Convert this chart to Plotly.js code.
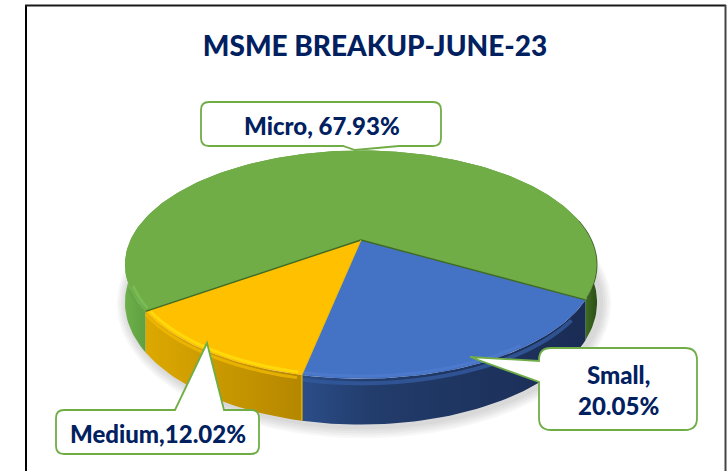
<!DOCTYPE html>
<html>
<head>
<meta charset="utf-8">
<script src="https://cdn.plot.ly/plotly-3.0.1.min.js"></script>
<style>html,body{margin:0;padding:0;background:#fff;overflow:hidden}#chart{width:727px;height:471px}</style>
</head>
<body>
<div id="chart"></div>
<script>
// ---- data ----
const categories = ['Small', 'Medium', 'Micro'];
const shares = [20.05, 12.02, 67.93];
const faceColors = ['#4472c4', '#ffc000', '#70ad47'];
const sideGradients = [
  [[0, '#2b4d88'], [0.25, '#223c6b'], [1, '#1a2c54']],
  [[0, '#dca800'], [1, '#b58700']],
  [[0, '#6cb04a'], [0.06, '#5c9a3c'], [0.93, '#5c9a3c'], [0.975, '#3f6e24'], [1, '#2c4d16']]
];
const rimColors = ['rgba(78,122,205,0.9)', '#ffd90a', 'rgba(128,200,92,0.55)'];
const wallBevel = ['rgba(50,88,155,0.85)', 'rgba(240,184,0,0.8)', 'rgba(100,165,70,0.7)'];
const titleText = 'MSME BREAKUP-JUNE-23';
const navy = '#002060';
const calloutGreen = '#70ad47';

// ---- perspective view of the disc (a 3-D pie is not a Plotly trace type) ----
const view = {cx: 361, cy: 240, A: 108.8, B: 230.5, k: -0.2157, depth: 36, startDeg: 29.5};
function project(deg, r, lift) {
  const t = deg * Math.PI / 180;
  const u = r * Math.cos(t), v = r * Math.sin(t), w = 1 + view.k * v;
  return [view.cx + view.B * u / w, view.cy + view.A * v / w + (lift || 0) * view.depth / w];
}
function arc(a, b, r, lift) {
  const out = [], n = Math.max(2, Math.ceil(Math.abs(b - a) / 1.5));
  for (let i = 0; i <= n; i++) out.push(project(a + (b - a) * i / n, r, lift));
  return out;
}
const xs = p => p.map(q => q[0]), ys = p => p.map(q => q[1]);

// slice angle ranges come from the shares
const total = shares.reduce((a, b) => a + b, 0);
const ranges = [];
let running = view.startDeg;
shares.forEach(s => { const e = running + s / total * 360; ranges.push([running, e]); running = e; });

const traces = [];
function poly(points, fillcolor, extra) {
  traces.push(Object.assign({type: 'scatter', mode: 'lines', x: xs(points), y: ys(points),
    fill: 'toself', fillcolor, line: {width: 0}, hoverinfo: 'skip', showlegend: false}, extra || {}));
}
function stroke(points, color, width) {
  traces.push({type: 'scatter', mode: 'lines', x: xs(points), y: ys(points),
    line: {color, width, simplify: false}, hoverinfo: 'skip', showlegend: false});
}

// soft shadow under the disc
[11, 9, 7, 5, 3].forEach(grow => {
  const ring = arc(0, 360, 1, 1).map(p => [p[0] + 3 + (p[0] - view.cx) * grow / 236, p[1] + 1 + (p[1] - 300) * grow / 110]);
  poly(ring, 'rgba(60,60,60,0.045)');
});

// side walls: green first (it is behind), then yellow, then blue
[2, 1, 0].forEach(i => {
  const [a, b] = ranges[i];
  const top = arc(a, b, 1, 0), bottom = arc(a, b, 1, 1).reverse();
  traces.push({type: 'scatter', mode: 'lines', x: xs(top.concat(bottom)), y: ys(top.concat(bottom)),
    fill: 'toself', fillcolor: faceColors[i], line: {width: 0},
    fillgradient: {type: 'horizontal', colorscale: sideGradients[i]},
    hoverinfo: 'skip', showlegend: false});
});
// soft bevel where each wall meets the top face
stroke(arc(ranges[0][0] + 8, ranges[0][1], 1, 0.1), wallBevel[0], 4);
stroke(arc(ranges[1][0] + 1, ranges[1][1], 1, 0.07), wallBevel[1], 3);
stroke(arc(ranges[2][0] + 1, ranges[2][0] + 12, 1, 0.07), wallBevel[2], 3);
// thin yellow seam on the wall between Medium and Small
stroke([project(ranges[0][1], 1, 0), project(ranges[0][1], 1, 1)], '#e0b000', 1.5);

// top faces
[2, 0, 1].forEach(i => {
  const [a, b] = ranges[i];
  const pts = [[view.cx, view.cy]].concat(arc(a, b, 1, 0), [[view.cx, view.cy]]);
  poly(pts, faceColors[i], {hoverinfo: 'text', hoveron: 'fills', text: categories[i] + ', ' + shares[i] + '%'});
});

// bevel highlights along the front rim
stroke(arc(ranges[1][0] + 1, ranges[1][1] - 0.5, 0.985, 0), rimColors[1], 3);
stroke(arc(ranges[0][0] + 25, ranges[0][1], 0.985, 0), rimColors[0], 3);
stroke(arc(ranges[2][0] + 1, ranges[2][0] + 12, 0.985, 0), rimColors[2], 3);
stroke(arc(ranges[2][1] - 40, ranges[2][1] - 1, 1, 0), 'rgba(45,75,25,0.7)', 1);

// separators
const apex = [view.cx, view.cy];
stroke([apex, project(ranges[2][0], 1, 0)], '#3f6b24', 1.4);
stroke([apex, project(ranges[2][1], 1, 0)], '#3f6b24', 1.4);
stroke([apex, project(ranges[0][1], 1, 0)], '#e8b800', 1);

// ---- callouts and frame ----
function callout(x0, y0, x1, y1, r, pointer) {
  // pointer: [side, a, b, tipX, tipY]
  const [side, a, b, tx, ty] = pointer;
  let d = `M${x0 + r},${y0}`;
  if (side === 'top') d += `L${a},${y0}L${tx},${ty}L${b},${y0}`;
  d += `L${x1 - r},${y0}Q${x1},${y0} ${x1},${y0 + r}L${x1},${y1 - r}Q${x1},${y1} ${x1 - r},${y1}`;
  if (side === 'bottom') d += `L${b},${y1}L${tx},${ty}L${a},${y1}`;
  d += `L${x0 + r},${y1}Q${x0},${y1} ${x0},${y1 - r}`;
  if (side === 'left') d += `L${x0},${b}L${tx},${ty}L${x0},${a}`;
  d += `L${x0},${y0 + r}Q${x0},${y0} ${x0 + r},${y0}Z`;
  return {type: 'path', xref: 'x', yref: 'y', path: d, fillcolor: '#fff', line: {color: calloutGreen, width: 1.8}, layer: 'above'};
}
const shapes = [
  callout(201, 102, 441, 146, 8, ['bottom', 343, 399, 355, 150]),
  callout(56, 410, 259, 454, 8, ['top', 175, 224, 207, 343]),
  callout(539, 348, 697, 430, 12, ['left', 361, 382, 470, 357]),
  {type: 'line', xref: 'x', yref: 'y', x0: 26, x1: 26, y0: 5, y1: 471, line: {color: '#000', width: 2}},
  {type: 'line', xref: 'x', yref: 'y', x0: 25, x1: 726, y0: 5.5, y1: 5.5, line: {color: '#1a1a1a', width: 2}},
  {type: 'line', xref: 'x', yref: 'y', x0: 725.5, x1: 725.5, y0: 5, y1: 471, line: {color: '#444', width: 2}}
];
const labelFont = {family: 'Lato, Carlito, sans-serif', size: 24, color: navy, weight: 900};
const annotations = [
  {x: 322, y: 125, text: 'Micro, 67.93%'},
  {x: 618, y: 390, text: 'Small,<br>20.05%'},
  {x: 158, y: 433, text: 'Medium,12.02%'}
].map(a => Object.assign(a, {xref: 'x', yref: 'y', showarrow: false, font: labelFont, align: 'center'}));

const layout = {
  width: 727, height: 471, margin: {l: 0, r: 0, t: 0, b: 0, pad: 0},
  paper_bgcolor: '#fff', plot_bgcolor: '#fff', showlegend: false,
  title: {text: titleText, x: 375 / 727, xanchor: 'center', y: 1 - 46 / 471, yanchor: 'middle',
    font: {family: 'Lato, Carlito, sans-serif', size: 28, color: navy, weight: 900}},
  xaxis: {range: [0, 727], visible: false, fixedrange: true},
  yaxis: {range: [471, 0], visible: false, fixedrange: true},
  shapes, annotations
};
Plotly.newPlot('chart', traces, layout, {displayModeBar: false, responsive: false});
</script>
</body>
</html>
